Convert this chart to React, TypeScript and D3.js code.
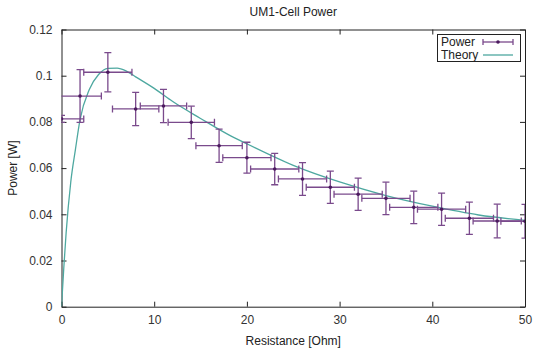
import React, { useEffect, useRef } from 'react'
import * as d3 from 'd3'

// measured points (resistance, power) with x/y error
const resistance = [0, 2, 5, 8, 11, 14, 17, 20, 23, 26, 29, 32, 35, 38, 41, 44, 47, 50]
const power = [0.0813, 0.0912, 0.1015, 0.0856, 0.0869, 0.0798, 0.0697, 0.0645, 0.0596, 0.0553, 0.0517, 0.0487, 0.0469, 0.043, 0.0422, 0.0383, 0.0371, 0.037]
const xErr = [2.4, 2.3, 2.6, 2.5, 2.5, 2.5, 2.5, 2.6, 2.6, 2.6, 2.6, 2.6, 2.6, 2.6, 2.6, 2.6, 2.6, 2.6]
const yErr = [0.0015, 0.0114, 0.0085, 0.0072, 0.0072, 0.007, 0.0072, 0.0067, 0.0068, 0.0071, 0.007, 0.007, 0.007, 0.007, 0.007, 0.007, 0.0073, 0.0073]

// theory curve
const theoryR = [0, 0.25, 0.5, 1, 1.5, 2, 3, 4, 5, 6, 7, 8, 10, 12, 15, 18, 20, 25, 30, 35, 40, 45, 50]
const theoryP = [0, 0.017, 0.032, 0.054, 0.068, 0.081, 0.094, 0.1005, 0.1032, 0.1033, 0.102, 0.0995, 0.0945, 0.0888, 0.0815, 0.0745, 0.0705, 0.0612, 0.054, 0.0481, 0.0435, 0.0397, 0.0374]

const xTicks = [0, 10, 20, 30, 40, 50]
const yTicks = [0, 0.02, 0.04, 0.06, 0.08, 0.1, 0.12]

const W = 544
const H = 351
const FONT = '"Liberation Sans", Arial, sans-serif'
const BAR = '#7a4a8c'
const DOT = '#4b1a5e'
const CURVE = '#4ea8a0'

const App = () => {
  const refSvg = useRef<SVGSVGElement>(null)

  useEffect(() => {
    const svg = d3.select(refSvg.current)
    svg.selectAll('*').remove()

    const left = 61.5, right = 525, top = 29.5, bottom = 306.7
    const x = d3.scaleLinear().domain([0, 50]).range([left, right])
    const y = d3.scaleLinear().domain([0, 0.12]).range([bottom, top])

    svg.append('rect').attr('width', W).attr('height', H).attr('fill', '#fff')

    svg.append('clipPath').attr('id', 'plot-clip')
      .append('rect').attr('x', left).attr('y', top).attr('width', right - left).attr('height', bottom - top)

    // axes, ticks pointing inward on all four sides
    const styleAxis = (g: any) => {
      g.select('.domain').attr('stroke', '#222')
      g.selectAll('.tick line').attr('stroke', '#222')
      g.selectAll('.tick text').attr('fill', '#333').attr('font-size', 12).attr('font-family', FONT)
    }
    svg.append('g').attr('transform', `translate(0,${bottom})`)
      .call(d3.axisBottom(x).tickValues(xTicks).tickSize(-5).tickSizeOuter(0).tickPadding(9))
      .call(styleAxis)
    svg.append('g').attr('transform', `translate(0,${top})`)
      .call(d3.axisTop(x).tickValues(xTicks).tickSize(-5).tickSizeOuter(0).tickFormat(() => ''))
      .call(styleAxis)
    svg.append('g').attr('transform', `translate(${left},0)`)
      .call(d3.axisLeft(y).tickValues(yTicks).tickSize(-5).tickSizeOuter(0).tickPadding(9).tickFormat(d3.format('')))
      .call(styleAxis)
    svg.append('g').attr('transform', `translate(${right},0)`)
      .call(d3.axisRight(y).tickValues(yTicks).tickSize(-5).tickSizeOuter(0).tickFormat(() => ''))
      .call(styleAxis)

    const plot = svg.append('g').attr('clip-path', 'url(#plot-clip)')

    // theory line
    const theory = theoryR.map((r, i) => [r, theoryP[i]] as [number, number])
    plot.append('path')
      .datum(theory)
      .attr('fill', 'none')
      .attr('stroke', CURVE)
      .attr('stroke-width', 1.3)
      .attr('d', d3.line<[number, number]>().x(d => x(d[0])).y(d => y(d[1])).curve(d3.curveMonotoneX))

    // error bars
    const pts = resistance.map((r, i) => ({ r, p: power[i], ex: xErr[i], ey: yErr[i] }))
    const cap = 3.5
    const bars = plot.selectAll('.err').data(pts).enter().append('g')
      .attr('stroke', BAR).attr('stroke-width', 1.3).attr('fill', 'none')
    bars.append('line')
      .attr('x1', d => x(d.r - d.ex)).attr('x2', d => x(d.r + d.ex))
      .attr('y1', d => y(d.p)).attr('y2', d => y(d.p))
    bars.append('line')
      .attr('x1', d => x(d.r - d.ex)).attr('x2', d => x(d.r - d.ex))
      .attr('y1', d => y(d.p) - cap).attr('y2', d => y(d.p) + cap)
    bars.append('line')
      .attr('x1', d => x(d.r + d.ex)).attr('x2', d => x(d.r + d.ex))
      .attr('y1', d => y(d.p) - cap).attr('y2', d => y(d.p) + cap)
    bars.append('line')
      .attr('x1', d => x(d.r)).attr('x2', d => x(d.r))
      .attr('y1', d => y(d.p - d.ey)).attr('y2', d => y(d.p + d.ey))
    bars.append('line')
      .attr('x1', d => x(d.r) - cap).attr('x2', d => x(d.r) + cap)
      .attr('y1', d => y(d.p + d.ey)).attr('y2', d => y(d.p + d.ey))
    bars.append('line')
      .attr('x1', d => x(d.r) - cap).attr('x2', d => x(d.r) + cap)
      .attr('y1', d => y(d.p - d.ey)).attr('y2', d => y(d.p - d.ey))
    plot.selectAll('.dot').data(pts).enter().append('circle')
      .attr('cx', d => x(d.r)).attr('cy', d => y(d.p)).attr('r', 1.8).attr('fill', DOT)

    // legend
    const lg = svg.append('g')
    lg.append('rect').attr('x', 437.5).attr('y', 34.5).attr('width', 83).attr('height', 27)
      .attr('fill', '#fff').attr('stroke', '#222')
    lg.append('text').attr('x', 441).attr('y', 46).text('Power')
      .attr('font-size', 12).attr('font-family', FONT).attr('fill', '#222')
    lg.append('text').attr('x', 441).attr('y', 59).text('Theory')
      .attr('font-size', 12).attr('font-family', FONT).attr('fill', '#222')
    const sy = 42
    lg.append('line').attr('x1', 483).attr('x2', 513).attr('y1', sy).attr('y2', sy).attr('stroke', BAR).attr('stroke-width', 1.3)
    lg.append('line').attr('x1', 483).attr('x2', 483).attr('y1', sy - 3).attr('y2', sy + 3).attr('stroke', BAR).attr('stroke-width', 1.3)
    lg.append('line').attr('x1', 513).attr('x2', 513).attr('y1', sy - 3).attr('y2', sy + 3).attr('stroke', BAR).attr('stroke-width', 1.3)
    lg.append('circle').attr('cx', 498).attr('cy', sy).attr('r', 1.8).attr('fill', DOT)
    lg.append('line').attr('x1', 483).attr('x2', 513).attr('y1', 55).attr('y2', 55).attr('stroke', CURVE).attr('stroke-width', 1.3)

    // titles
    svg.append('text').attr('x', (left + right) / 2).attr('y', 16).attr('text-anchor', 'middle')
      .attr('font-size', 12).attr('font-family', FONT).attr('fill', '#222').text('UM1-Cell Power')
    svg.append('text').attr('x', (left + right) / 2).attr('y', 345).attr('text-anchor', 'middle')
      .attr('font-size', 12).attr('font-family', FONT).attr('fill', '#222').text('Resistance [Ohm]')
    svg.append('text').attr('transform', `translate(17,${(top + bottom) / 2}) rotate(-90)`).attr('text-anchor', 'middle')
      .attr('font-size', 12).attr('font-family', FONT).attr('fill', '#222').text('Power [W]')
  }, [])

  return <svg ref={refSvg} width={W} height={H} style={{ position: 'absolute', left: 0, top: 0 }} />
}

export default App
